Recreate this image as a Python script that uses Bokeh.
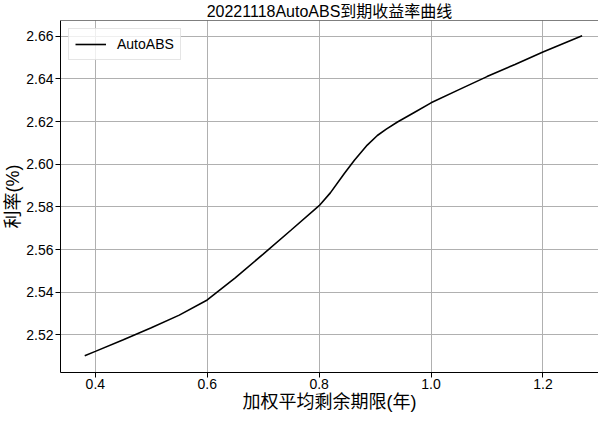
from bokeh.plotting import figure
from bokeh.models import Range1d, FixedTicker, Span, Legend, LegendItem
from bokeh.embed import file_html
from bokeh.resources import INLINE

# data
x_years = [0.381, 0.40, 0.45, 0.50, 0.55, 0.60, 0.65, 0.70, 0.75, 0.80,
           0.82, 0.845, 0.863, 0.886, 0.904, 0.92, 0.94, 0.97, 1.00, 1.05,
           1.10, 1.15, 1.20, 1.27]
y_rates = [2.5103, 2.5123, 2.5178, 2.5234, 2.5293, 2.5364, 2.5468, 2.5579, 2.5692, 2.5806,
           2.5866, 2.5957, 2.6019, 2.6090, 2.6135, 2.6165, 2.6198, 2.6243, 2.6288, 2.6350,
           2.6411, 2.6468, 2.6526, 2.6603]

x_ticks = [0.4, 0.6, 0.8, 1.0, 1.2]
x_tick_labels = ["0.4", "0.6", "0.8", "1.0", "1.2"]
y_ticks = [2.52, 2.54, 2.56, 2.58, 2.60, 2.62, 2.64, 2.66]
y_tick_labels = ["2.52", "2.54", "2.56", "2.58", "2.60", "2.62", "2.64", "2.66"]

series_name = "AutoABS"
title_text = "20221118AutoABS到期收益率曲线"
x_label = "加权平均剩余期限(年)"
y_label = "利率(%)"

FONT = "Liberation Sans, Noto Sans CJK SC"

p = figure(width=598, height=414, output_backend="svg", toolbar_location=None,
           x_range=Range1d(0.3377, 1.2993), y_range=Range1d(2.5024, 2.6674),
           title=title_text,
           min_border_left=0, min_border_right=0, min_border_top=0, min_border_bottom=0)

p.background_fill_color = "white"
p.border_fill_color = "white"
p.outline_line_color = None

p.title.align = "center"
p.title.text_font = FONT
p.title.text_font_size = "16px"
p.title.text_font_style = "normal"
p.title.text_color = "black"
p.title.standoff = 1

r = p.line(x_years, y_rates, line_color="black", line_width=1.6)

top_spine = Span(location=2.6674, dimension="width", line_color="black", line_width=1)
p.add_layout(top_spine)

for ax, ticks, labels, lab in ((p.xaxis[0], x_ticks, x_tick_labels, x_label),
                               (p.yaxis[0], y_ticks, y_tick_labels, y_label)):
    ax.ticker = FixedTicker(ticks=ticks)
    ax.major_label_overrides = {t: l for t, l in zip(ticks, labels)}
    ax.axis_label = lab
    ax.axis_label_text_font = FONT
    ax.axis_label_text_font_size = "18px"
    ax.axis_label_text_font_style = "normal"
    ax.axis_label_text_color = "black"
    ax.axis_label_standoff = 0
    ax.major_label_text_font = FONT
    ax.major_label_text_font_size = "14px"
    ax.major_label_text_color = "black"
    ax.major_label_standoff = 2
    ax.major_tick_out = 5
    ax.major_tick_in = 0
    ax.minor_tick_out = 0
    ax.minor_tick_in = 0
    ax.major_tick_line_color = "black"
    ax.axis_line_color = "black"
    ax.axis_line_width = 1

p.xaxis[0].major_label_standoff = 1

p.grid.grid_line_color = "#b0b0b0"
p.grid.grid_line_width = 1

legend = Legend(items=[LegendItem(label=series_name, renderers=[r])],
                location="top_left", margin=8, padding=6,
                glyph_width=31, glyph_height=18, label_standoff=11,
                label_text_font=FONT, label_text_font_size="14px",
                label_text_color="black",
                border_line_color="#cccccc", border_line_width=1,
                background_fill_color="white", background_fill_alpha=0.8)
p.add_layout(legend)

open("out.html", "w").write(file_html(p, INLINE))
